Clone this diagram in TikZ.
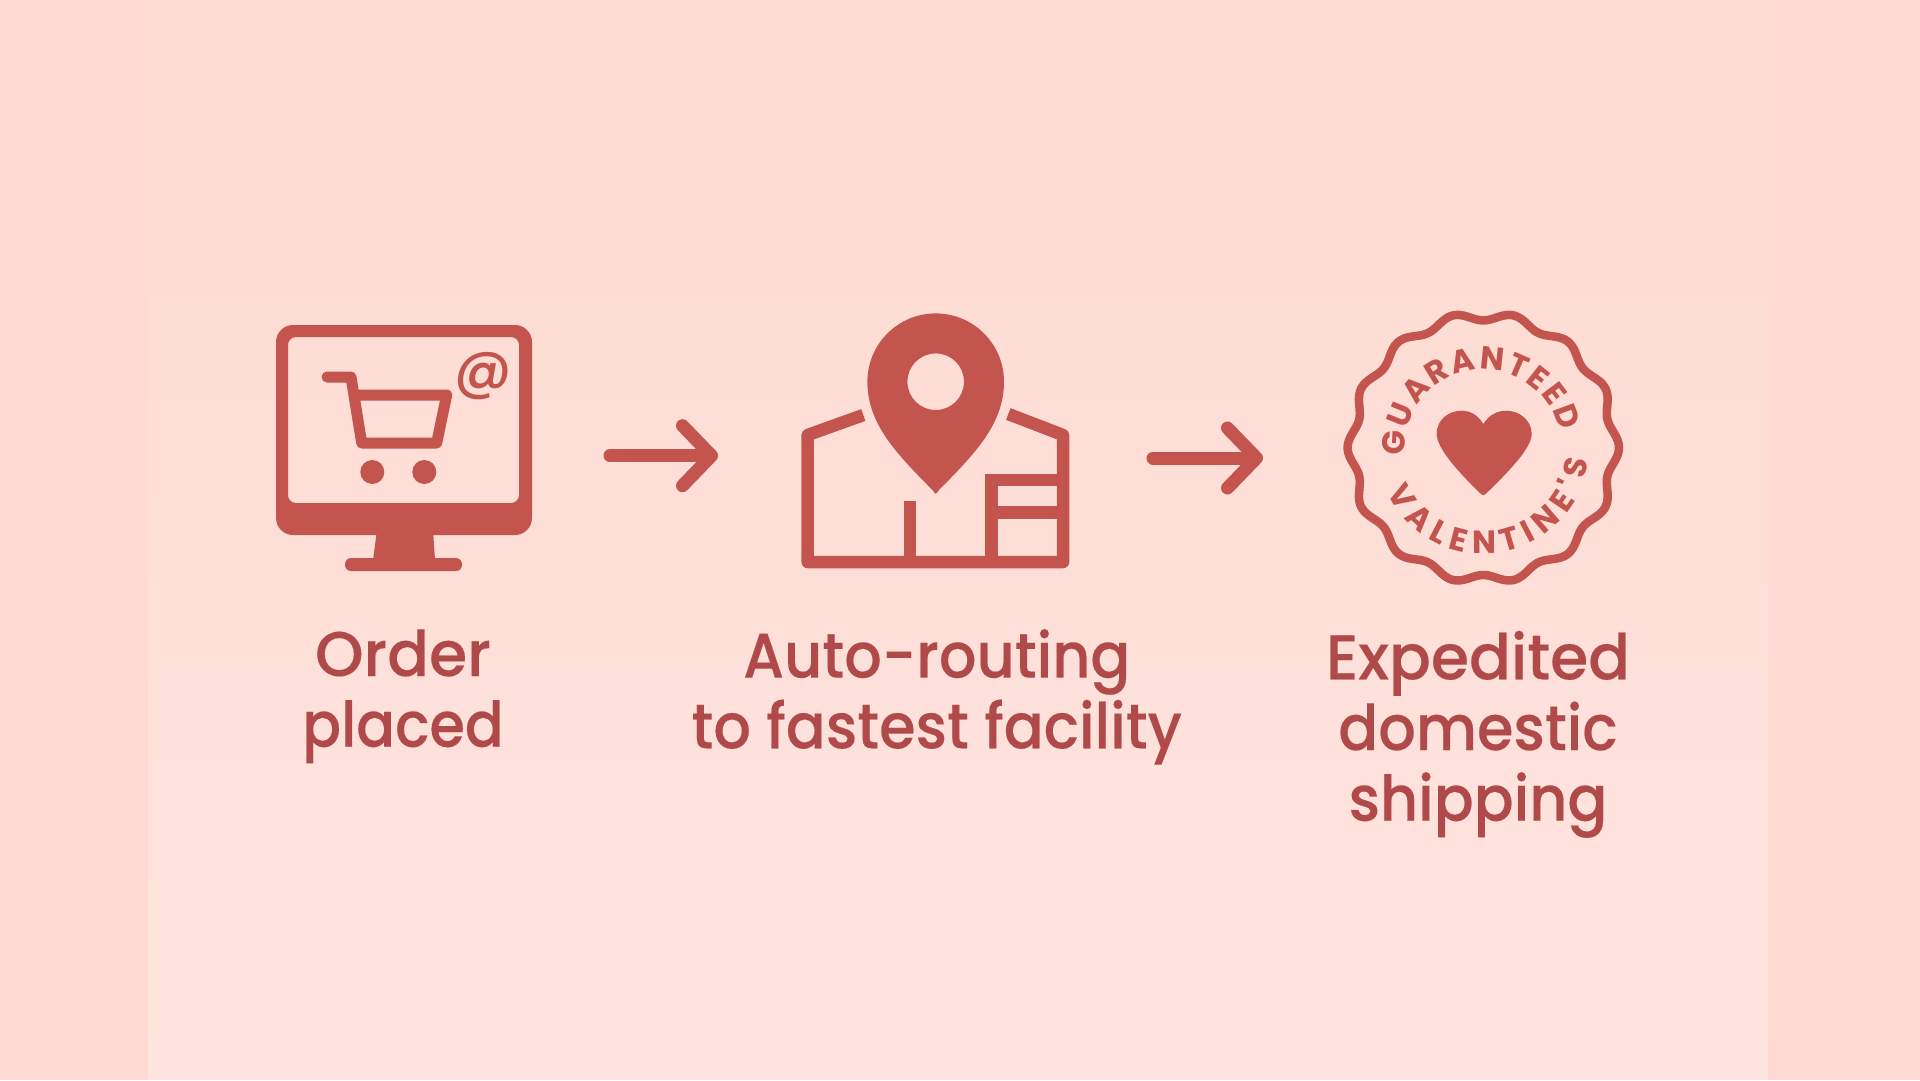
\documentclass[tikz,border=0pt]{standalone}
\usepackage{fontspec}
\usetikzlibrary{arrows.meta,decorations.text}
\setmainfont{Poppins}
\newfontfamily\labfont[FakeStretch=0.935,FakeBold=0.25]{Poppins Medium}
\newfontfamily\labwide[FakeStretch=0.98,FakeBold=0.25]{Poppins Medium}
\newfontfamily\labnarrow[FakeStretch=0.91,FakeBold=0.25]{Poppins Medium}
\newfontfamily\atfont{Poppins Medium}
\newfontfamily\badgefont{Poppins Bold}
\definecolor{icon}{HTML}{C4544E}
\definecolor{labelc}{HTML}{B04A4A}
\definecolor{bgedge}{HTML}{FFDAD3}
\definecolor{bgtop}{HTML}{FEDCD4}
\definecolor{bgbot}{HTML}{FFE5DF}
\tikzset{
  x=1pt,y=-1pt,
  iconline/.style={draw=icon,line width=12.5pt,line join=miter},
  cartline/.style={draw=icon,line width=11pt,line join=round,line cap=round},
  flowarrow/.style={draw=icon,line width=13pt,line cap=round,
    -{Straight Barb[round,length=29pt,width=60pt,line width=13pt]}},
  steplabel/.style={text=labelc,font=\labfont\fontsize{63}{70.7}\selectfont,align=center,inner sep=0pt,anchor=base},
  badgeletters/.style={decorate,decoration={text along path,text align=fit to path}}
}
\begin{document}
\begin{tikzpicture}
\useasboundingbox (0,0) rectangle (1920,1080);
% background
\fill[bgedge] (0,0) rectangle (1920,1080);
\foreach \i in {0,...,53}{
  \pgfmathsetmacro{\p}{\i<13 ? 100 : 100-(\i-13)*2.5}
  \fill[bgtop!\p!bgbot] (148,{\i*20}) rectangle (1768,{min(\i*20+21,1080)});
}

% monitor
\fill[icon,even odd rule]
  [rounded corners=17pt] (276,325) rectangle (532,535)
  [rounded corners=8pt] (288,337) rectangle (519,503);
\fill[icon] (377,530) -- (373,560) -- (435,560) -- (433,530) -- cycle;
\fill[icon,rounded corners=6pt] (345,558) rectangle (462,571);
% cart
\draw[cartline] (327,377) -- (351,377) -- (361.7,443) -- (436.7,443) -- (446.7,395) -- (356,395);
\fill[icon] (372.3,472) circle[radius=12];
\fill[icon] (424.3,472) circle[radius=12];
\node[text=icon,font=\atfont\fontsize{56}{60}\selectfont,inner sep=0pt] (at) at (482.7,376) {@};

% warehouse
\draw[iconline,line join=round] (863.3,415) -- (807.7,435) -- (807.7,562) -- (1063,562) -- (1063,435) -- (1008.3,414);
\draw[iconline] (910,501) -- (910,562);
\draw[iconline] (991.7,562) -- (991.7,480) -- (1063,480);
\draw[iconline] (991.7,512.5) -- (1063,512.5);
% pin
\fill[icon,even odd rule]
  (867.4,381.7) arc[start angle=180,end angle=360,radius=68.3]
  .. controls (1004,425) and (973.4,455) .. (938,491)
  .. controls (936.5,494.5) and (934.9,494.5) .. (933.4,491)
  .. controls (898,455) and (867.4,425) .. (867.4,381.7) -- cycle
  (964,381.7) arc[start angle=0,end angle=360,radius=28.3];

% badge
\draw[draw=icon,line width=8.5pt,line join=round]
  plot[domain=0:360,samples=337] ({1483.3+(131.5+4.2*cos(14*\x))*cos(\x)},{447.7-(131.5+4.2*cos(14*\x))*sin(\x)}) -- cycle;
\fill[icon] (1483.3,424)
  .. controls (1478,415) and (1470,410.7) .. (1461.7,410.7)
  .. controls (1448,410.7) and (1436.7,420) .. (1436.7,434)
  .. controls (1436.7,447) and (1455,469) .. (1481,494)
  .. controls (1482.5,495.7) and (1484.1,495.7) .. (1485.6,494)
  .. controls (1511.6,469) and (1531.7,447) .. (1531.7,434)
  .. controls (1531.7,420) and (1519,410.7) .. (1506.7,410.7)
  .. controls (1497,410.7) and (1489,415) .. (1483.3,424) -- cycle;
\path[badgeletters,decoration={text={|\badgefont\fontsize{32}{34}\selectfont\color{icon}|GUARANTEED}}]
  ({1483.3+78*cos(186)},{447.7-78*sin(186)}) arc[start angle=186,end angle=12,radius=78,y radius=-78];
\path[badgeletters,decoration={text={|\badgefont\fontsize{32}{34}\selectfont\color{icon}|VALENTINE'S}}]
  ({1483.3+106*cos(-155)},{447.7-106*sin(-155)}) arc[start angle=-155,end angle=-7,radius=106,y radius=-106];

% arrows
\coordinate (a1s) at (610,455.7);
\coordinate (a1e) at (718,455.7);
\coordinate (a2s) at (1153,458);
\coordinate (a2e) at (1263,458);
\draw[flowarrow] (a1s) -- (a1e);
\draw[flowarrow] (a2s) -- (a2e);

% labels
\node[steplabel] (order) at (403,746.7) {{\labwide Order}\\{\labnarrow placed}};
\node[steplabel] (route) at (936.7,748.3) {Auto-routing\\to fastest facility};
\node[steplabel] (ship) at (1478,820.7) {{\labwide Expedited}\\domestic\\shipping};
\end{tikzpicture}
\end{document}
